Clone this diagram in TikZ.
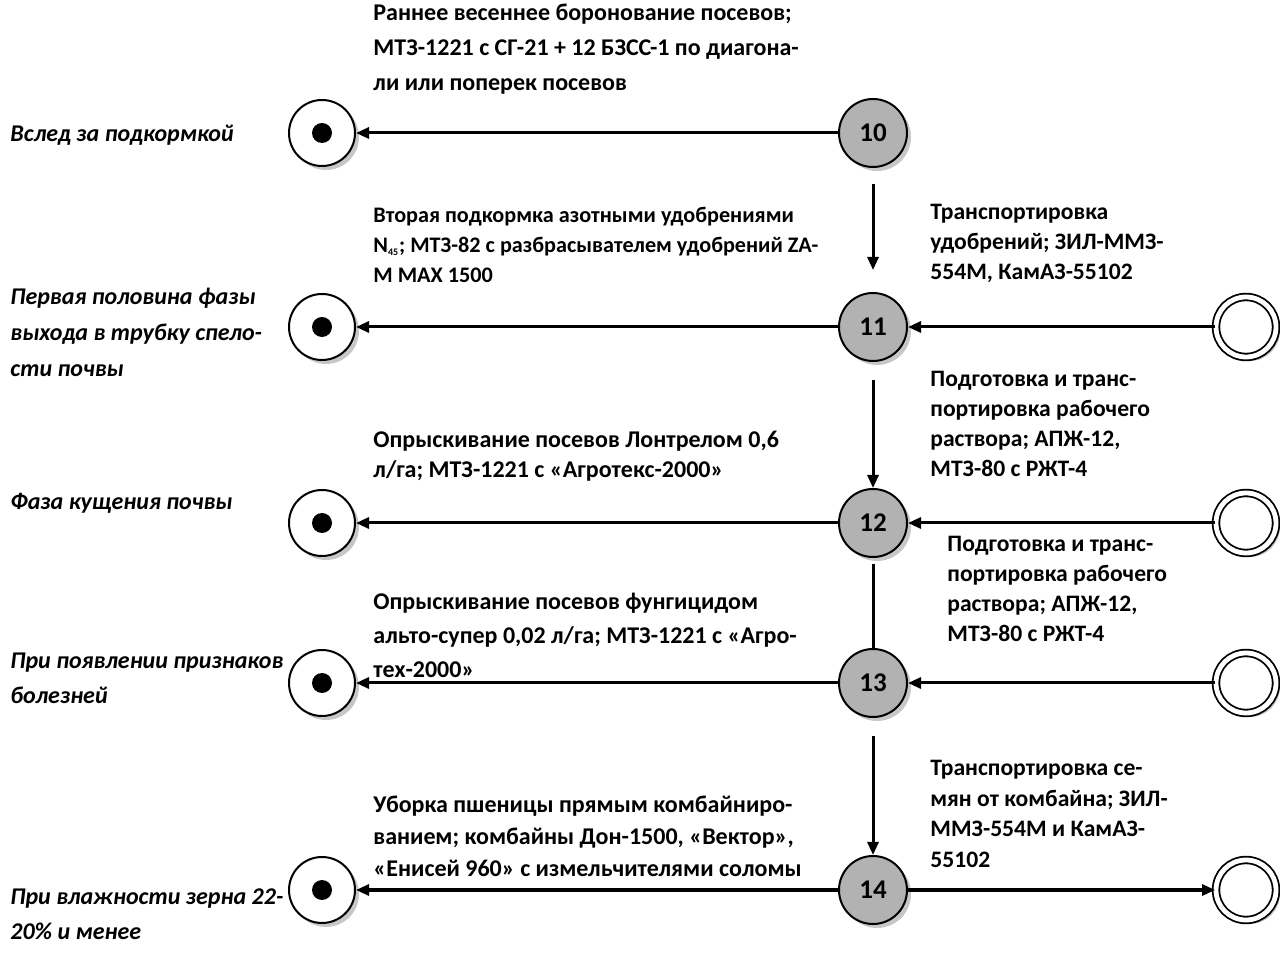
\documentclass[tikz,border=0pt]{standalone}
\usepackage{fontspec}
\setmainfont{Carlito}
\usetikzlibrary{arrows.meta}
\usetikzlibrary{shadows}
\tikzset{stage/.style = {circle, draw, line width = 1pt, fill = black!30, minimum size = 34pt, inner sep = 0,
    font = \bfseries\fontsize{13.5}{15}\selectfont,
    drop shadow = {shadow xshift = 2pt, shadow yshift = -2pt, fill = black!22, opacity = 1}}}
\tikzset{fin/.style = {circle, draw, line width = 1pt, fill = white, minimum size = 33pt, inner sep = 0,
    path picture = {\fill [black] (path picture bounding box.center) circle (5pt);},
    drop shadow = {shadow xshift = 2pt, shadow yshift = -2pt, fill = black!22, opacity = 1}}}
\tikzset{src/.style = {circle, draw, line width = 0.9pt, double, double distance = 2.4pt, fill = white,
    minimum size = 30pt, inner sep = 0,
    drop shadow = {shadow xshift = 2pt, shadow yshift = -2pt, fill = black!22, opacity = 1}}}
\tikzset{arr/.style = {line width = 1.5pt, -{Triangle[length = 6.5pt, width = 5.5pt]}}}
\tikzset{task/.style = {anchor = north west, inner sep = 0, align = left, font = \bfseries\fontsize{12}{#1}\selectfont}}
\tikzset{side/.style = {anchor = north west, inner sep = 0, align = left, font = \bfseries\fontsize{11.8}{#1}\selectfont}}
\tikzset{cond/.style = {anchor = north west, inner sep = 0, align = left, font = \bfseries\itshape\fontsize{12}{18}\selectfont}}

\begin{document}
\begin{tikzpicture}[x = 0.5pt, y = -0.5pt]
      \useasboundingbox (0, 0) rectangle (1280, 961);

      \foreach \n/\y in {10/133, 11/327, 12/523, 13/683, 14/890} {
        \node [fin] (l\n) at (322, \y) {};
        \node [stage] (s\n) at (873, \y) {\n};
        \draw [arr] (s\n) -- (l\n);
      }
      \foreach \n/\y in {11/327, 12/523, 13/683, 14/890} {
        \node [src] (r\n) at (1246, \y) {};
      }
      \foreach \n in {11, 12, 13} {
        \draw [arr] (r\n) -- (s\n);
      }
      \draw [arr] (s14) -- (r14);

      \draw [arr, shorten <= 8pt, shorten >= 11pt] (s10) -- (s11);
      \draw [arr, shorten <= 9pt] (s11) -- (s12);
      \draw [line width = 1.5pt, shorten <= 3pt] (s12) -- (s13);
      \draw [arr, shorten <= 9pt] (s13) -- (s14);

      % works
      \node [task = 17.5pt] (t10) at (373, 4) {Раннее весеннее боронование посевов;\\МТЗ-1221 с СГ-21 + 12 БЗСС-1 по диагона-\\ли или поперек посевов};
      \node [task = 15pt, font = \bfseries\fontsize{11.1}{15}\selectfont] (t11) at (373, 207) {Вторая подкормка азотными удобрениями\\N\textsubscript{\tiny 45}; МТЗ-82 с разбрасывателем удобрений ZA-\\M MAX 1500};
      \node [task = 15pt] (t12) at (373, 431) {Опрыскивание посевов Лонтрелом 0,6\\л/га; МТЗ-1221 с «Агротекс-2000»};
      \node [task = 17pt] (t13) at (373, 593) {Опрыскивание посевов фунгицидом\\альто-супер 0,02 л/га; МТЗ-1221 с «Агро-\\тех-2000»};
      \node [task = 16pt] (t14) at (373, 796) {Уборка пшеницы прямым комбайниро-\\ванием; комбайны Дон-1500, «Вектор»,\\«Енисей 960» с измельчителями соломы};

      \node [side = 15pt] (u11) at (930, 204) {Транспортировка\\удобрений; ЗИЛ-ММЗ-\\554М, КамАЗ-55102};
      \node [side = 15pt] (u12) at (930, 371) {Подготовка и транс-\\портировка рабочего\\раствора; АПЖ-12,\\МТЗ-80 с РЖТ-4};
      \node [side = 15pt] (u13) at (947, 536) {Подготовка и транс-\\портировка рабочего\\раствора; АПЖ-12,\\МТЗ-80 с РЖТ-4};
      \node [side = 15.3pt] (u14) at (930, 760) {Транспортировка се-\\мян от комбайна; ЗИЛ-\\ММЗ-554М и КамАЗ-\\55102};

      % periods
      \node [cond] (c10) at (10, 125) {Вслед за подкормкой};
      \node [cond] (c11) at (10, 288) {Первая половина фазы\\выхода в трубку спело-\\сти почвы};
      \node [cond] (c12) at (10, 493) {Фаза кущения почвы};
      \node [cond, font = \bfseries\itshape\fontsize{12}{17.5}\selectfont] (c13) at (10, 653) {При появлении признаков\\болезней};
      \node [cond, font = \bfseries\itshape\fontsize{12}{17.5}\selectfont] (c14) at (10, 888) {При влажности зерна 22-\\20\% и менее};
    \end{tikzpicture}
\end{document}
